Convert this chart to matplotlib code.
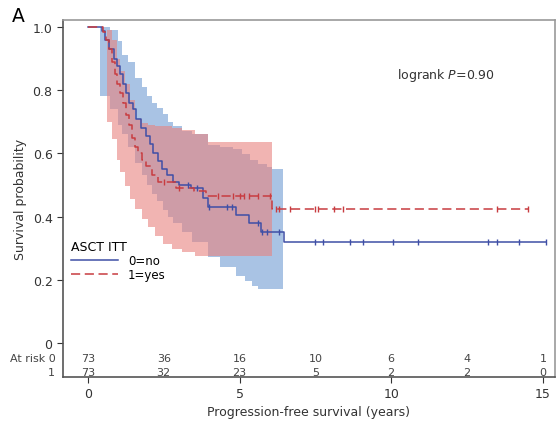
import numpy as np
import matplotlib
matplotlib.use("Agg")
import matplotlib.pyplot as plt

# Kaplan-Meier estimates (years, survival)
no_t = [0, 0.45, 0.55, 0.7, 0.85, 0.95, 1.05, 1.15, 1.25, 1.35, 1.5, 1.6, 1.75, 1.9, 2.05,
        2.15, 2.3, 2.45, 2.6, 2.8, 3.0, 3.4, 3.8, 3.95, 4.9, 5.3, 5.7, 6.45, 15.1]
no_s = [1.0, 0.986, 0.96, 0.93, 0.90, 0.875, 0.85, 0.82, 0.79, 0.76, 0.74, 0.71, 0.68, 0.655, 0.63,
        0.60, 0.575, 0.55, 0.53, 0.51, 0.50, 0.49, 0.46, 0.43, 0.405, 0.38, 0.35, 0.32, 0.32]

yes_t = [0, 0.5, 0.6, 0.7, 0.8, 0.9, 0.95, 1.05, 1.15, 1.25, 1.35, 1.45, 1.55, 1.65, 1.8,
         1.9, 2.1, 2.3, 2.9, 3.5, 3.9, 6.07, 14.5]
yes_s = [1.0, 0.985, 0.96, 0.93, 0.89, 0.85, 0.82, 0.79, 0.76, 0.72, 0.69, 0.65, 0.62, 0.60, 0.58,
         0.56, 0.53, 0.51, 0.49, 0.48, 0.465, 0.425, 0.425]

# confidence bands (no = blue, yes = red)
no_ci_t = [0.4, 0.73, 0.99, 1.12, 1.32, 1.55, 1.78, 1.95, 2.11, 2.27, 2.47, 2.64, 2.8, 3.1, 3.43,
           3.96, 4.35, 4.78, 4.9, 5.07, 5.18, 5.34, 5.4, 5.6, 5.9, 6.07, 6.43]
no_lo = [0.78, 0.74, 0.69, 0.66, 0.62, 0.57, 0.53, 0.50, 0.47, 0.45, 0.42, 0.40, 0.38, 0.35, 0.32,
         0.272, 0.24, 0.24, 0.212, 0.212, 0.196, 0.196, 0.18, 0.171, 0.171, 0.171, 0.171]
no_hi = [1.0, 0.99, 0.955, 0.91, 0.89, 0.84, 0.81, 0.78, 0.76, 0.745, 0.725, 0.70, 0.687, 0.67, 0.66,
         0.625, 0.62, 0.614, 0.614, 0.598, 0.598, 0.58, 0.58, 0.566, 0.556, 0.55, 0.55]

yes_ci_t = [0.63, 0.79, 0.96, 1.06, 1.22, 1.38, 1.55, 1.78, 1.98, 2.21, 2.47, 2.77, 3.1,
            3.53, 3.96, 6.07]
yes_lo = [0.70, 0.646, 0.58, 0.54, 0.497, 0.456, 0.424, 0.392, 0.367, 0.339, 0.313, 0.297,
          0.288, 0.275, 0.275, 0.275]
yes_hi = [0.99, 0.96, 0.90, 0.86, 0.82, 0.77, 0.71, 0.695, 0.69, 0.687, 0.685, 0.68, 0.675,
          0.66, 0.636, 0.636]

# censoring marks
no_cens = [3.3, 3.6, 4.0, 4.6, 4.75, 5.6, 5.75, 5.9, 6.3, 7.5, 7.75, 8.65, 9.07, 10.05, 10.9,
           13.2, 13.5, 14.2, 15.1]
yes_cens = [2.5, 3.0, 4.3, 4.8, 5.0, 5.15, 5.3, 5.6, 6.0, 6.2, 6.3, 6.65, 7.5, 7.6, 8.1, 8.4,
            13.5, 14.5]

risk_t = [0, 2.5, 5, 7.5, 10, 12.5, 15]
risk_no = [73, 36, 16, 10, 6, 4, 1]
risk_yes = [73, 32, 23, 5, 2, 2, 0]

blue = "#3f4fa6"
red = "#c83c40"

fig = plt.figure(figsize=(5.59, 4.27), dpi=100)
ax = fig.add_axes([0.1127, 0.1148, 0.8801, 0.836])

ax.fill_between(no_ci_t, no_lo, no_hi, step="post", color="#a9c3e4", lw=0)
ax.fill_between(yes_ci_t, yes_lo, yes_hi, step="post", color="#e8827f", alpha=0.6, lw=0)

ax.step(no_t, no_s, where="post", color=blue, lw=1.1, label="0=no")
ax.step(yes_t, yes_s, where="post", color=red, lw=1.1, ls=(0, (6, 3)), label="1=yes")


def surv_at(ts, ss, x):
    i = np.searchsorted(ts, x, side="right") - 1
    return ss[max(i, 0)]


ax.plot(no_cens, [surv_at(no_t, no_s, c) for c in no_cens], ls="none", marker="|",
        ms=4, mew=1, color=blue)
ax.plot(yes_cens, [surv_at(yes_t, yes_s, c) for c in yes_cens], ls="none", marker="|",
        ms=4, mew=1, color=red)

ax.set_xlim(-0.82, 15.4)
ax.set_ylim(-0.108, 1.022)
ax.set_xticks([0, 5, 10, 15])
ax.set_yticks([0, 0.2, 0.4, 0.6, 0.8, 1.0])
ax.set_yticklabels(["0", "0.2", "0.4", "0.6", "0.8", "1.0"])
ax.tick_params(labelsize=9, colors="#333333", length=4, direction="out")
for s in ax.spines.values():
    s.set_color("#999999")
    s.set_linewidth(1.2)
ax.spines["left"].set_color("#555555")
ax.spines["bottom"].set_color("#555555")

# number at risk
for x, a, b in zip(risk_t, risk_no, risk_yes):
    ax.text(x, -0.047, str(a), ha="center", va="center", fontsize=8, color="#444444")
    ax.text(x, -0.092, str(b), ha="center", va="center", fontsize=8, color="#444444")
fig.text(10 / 559, 1 - 359 / 427, "At risk 0", ha="left", va="center", fontsize=8, color="#444444")
fig.text(55 / 559, 1 - 373 / 427, "1", ha="right", va="center", fontsize=8, color="#444444")

ax.set_xlabel("Progression-free survival (years)", fontsize=9, color="#333333", labelpad=3)
ax.set_ylabel("Survival probability", fontsize=9, color="#333333", labelpad=4)

ax.text(10.2, 0.85, "logrank $\\it{P}$=0.90", fontsize=9, color="#333333", ha="left", va="center")

leg = ax.legend(loc="lower left", bbox_to_anchor=(0.0, 0.245), title="ASCT ITT", frameon=False,
                fontsize=8.5, title_fontsize=9, handlelength=4, labelspacing=0.1,
                borderaxespad=0.3, alignment="left")

fig.text(12 / 559, 1 - 17 / 427, "A", fontsize=13.5, ha="left", va="center")

fig.savefig("out.png", dpi=100)
